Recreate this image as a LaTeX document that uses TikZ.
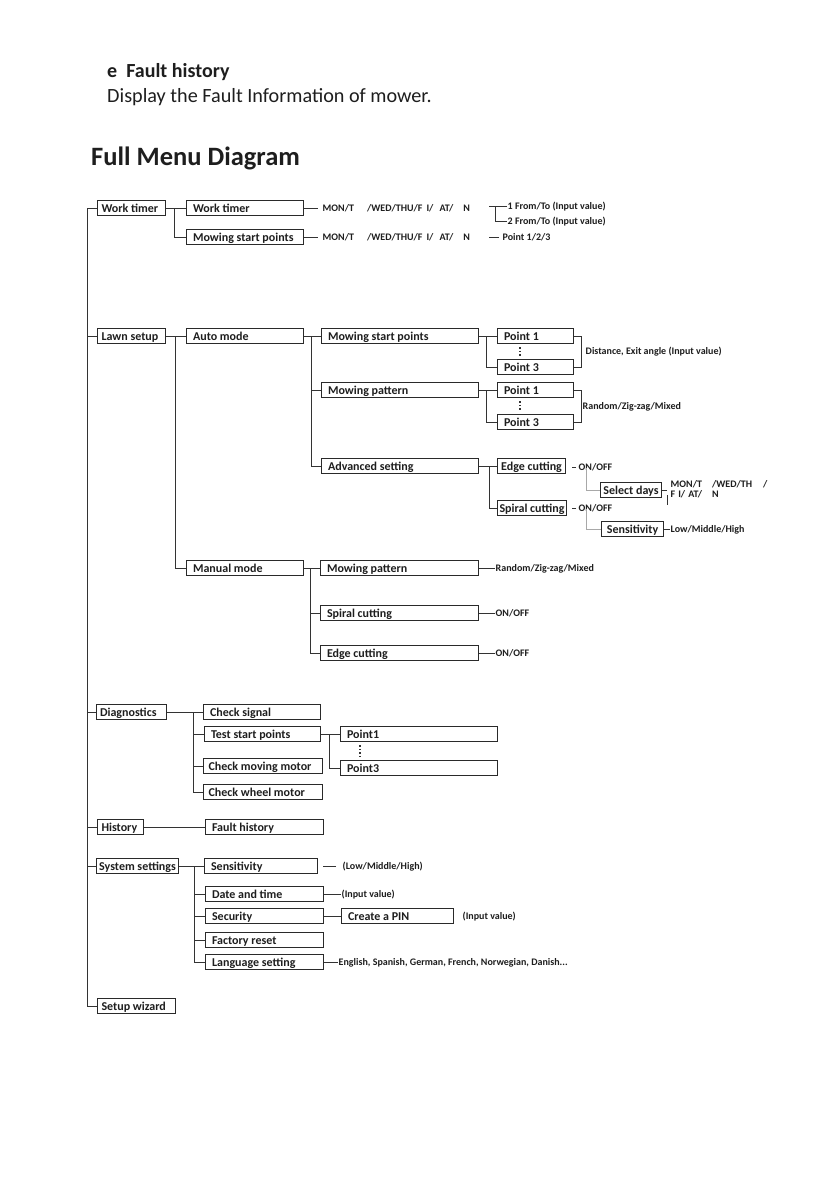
\documentclass[tikz,border=0pt]{standalone}
\usepackage{fontspec}
\setmainfont{Carlito}
\definecolor{boxc}{HTML}{2A2A2A}
\definecolor{linec}{HTML}{333333}
\definecolor{txt}{HTML}{1E1E1E}
\definecolor{lgray}{HTML}{A8A8A8}
% \mb[pad]{name}{x1}{x2}{y}{text}: left aligned;  \mbc: centred, tight
\newcommand\mb[6][6.5]{\node[mbox, inner xsep=#1pt] (#2) at (#3,#5) {\makebox[\dimexpr #4pt-#3pt-#1pt-#1pt\relax][l]{#6}};}
\newcommand\mbc[5]{\node[mbox, inner xsep=2pt] (#1) at (#2,#4) {\makebox[\dimexpr #3pt-#2pt-4pt\relax][c]{#5}};}
\begin{document}
\begin{tikzpicture}[x=1pt,y=-1pt,
  mbox/.style={draw=boxc, line width=1.1pt, inner ysep=0pt, minimum height=15.5pt, anchor=west, font=\bfseries\fontsize{12}{13}\selectfont, text height=9.4pt, text depth=1.4pt, text=txt},
  lbl/.style={anchor=west, inner sep=0.5pt, font=\bfseries\fontsize{10}{11}\selectfont, text=txt, text height=7pt, text depth=1pt},
  con/.style={draw=linec, line width=0.9pt},
  gcon/.style={draw=lgray, line width=0.9pt},
  dots/.style={draw=linec, line width=1.1pt, dash pattern=on 1.2pt off 2.3pt}]
\useasboundingbox (0,0) rectangle (839,1191);
\fill[white] (0,0) rectangle (839,1191);

% header
\node[anchor=base west, inner sep=0, font=\bfseries\fontsize{20}{22}\selectfont, text=txt] (hd1) at (107,77) {e\hspace{9pt}Fault history};
\node[anchor=base west, inner sep=0, font=\fontsize{20.2}{22}\selectfont, text=txt] (hd2) at (107,102) {Display the Fault Information of mower.};
\node[anchor=base west, inner sep=0, font=\bfseries\fontsize{26.5}{28}\selectfont, text=txt] (hd3) at (91,165) {Full Menu Diagram};

% level 1
\mb[4]{wt}{97}{165}{208}{Work timer}
\mb[4]{lawn}{97}{165}{336}{Lawn setup}
\mb[3.5]{diag}{96}{166}{712}{Diagnostics}
\mb[4]{hist}{97}{143}{827}{History}
\mbc{sys}{96}{178}{866}{System settings}
\mb[4]{setup}{97}{175}{1006}{Setup wizard}
\coordinate (trunk) at (87,208);
\draw[con] (wt.west) -- (trunk) |- (setup.west);
\foreach \n in {lawn,diag,hist,sys} \draw[con] (\n.west) -- (\n.west -| trunk);

% work timer
\mb{wt1}{186}{303}{208}{Work timer}
\mb{wt2}{186}{303}{237}{Mowing start points}
\draw[con] (wt.east) -- (wt1.west);
\draw[con] ([xshift=8pt]wt.east) |- (wt2.west);
\node[lbl] (d1) at (322,208) {MON/T\hspace{13pt}/WED/THU/F\hspace{4pt}I/\hspace{6pt}AT/\hspace{10pt}N};
\node[lbl] (d2) at (322,237) {MON/T\hspace{13pt}/WED/THU/F\hspace{4pt}I/\hspace{6pt}AT/\hspace{10pt}N};
\draw[con] (wt1.east) -- ([xshift=-4pt]d1.west);
\draw[con] (wt2.east) -- ([xshift=-4pt]d2.west);
\node[lbl] (f1) at (507,206) {1 From/To (Input value)};
\node[lbl] (f2) at (507,221) {2 From/To (Input value)};
\draw[con] (f1.west) -- ++(-18,0);
\draw[con] ([xshift=-12pt]f1.west) |- (f2.west);
\node[lbl] (p123) at (502,237) {Point 1/2/3};
\draw[con] ([xshift=-3pt]p123.west) -- ++(-10,0);

% lawn setup
\mb{auto}{186}{303}{336}{Auto mode}
\mb{manual}{186}{303}{568}{Manual mode}
\draw[con] (lawn.east) -- (auto.west);
\draw[con] ([xshift=9pt]lawn.east) |- (manual.west);

\mb{msp}{321}{478}{336}{Mowing start points}
\mb{mpat}{321}{478}{390}{Mowing pattern}
\mb{adv}{321}{478}{466}{Advanced setting}
\draw[con] (auto.east) -- (msp.west);
\draw[con] ([xshift=7pt]auto.east) |- (mpat.west);
\draw[con] ([xshift=7pt]auto.east) |- (adv.west);

\mb{p1a}{497}{573}{336}{Point 1}
\mb{p3a}{497}{573}{367}{Point 3}
\draw[con] (msp.east) -- (p1a.west);
\draw[con] ([xshift=7pt]msp.east) |- (p3a.west);
\draw[dots] ([xshift=23pt,yshift=-3pt]p1a.south west) -- ([xshift=23pt,yshift=3pt]p3a.north west);
\draw[con] (p1a.east) -- ++(7,0) |- (p3a.east);
\node[lbl] (dist) at (585,351) {Distance, Exit angle (Input value)};

\mb{p1b}{497}{573}{390}{Point 1}
\mb{p3b}{497}{573}{422}{Point 3}
\draw[con] (mpat.east) -- (p1b.west);
\draw[con] ([xshift=7pt]mpat.east) |- (p3b.west);
\draw[dots] ([xshift=23pt,yshift=-3pt]p1b.south west) -- ([xshift=23pt,yshift=3pt]p3b.north west);
\draw[con] (p1b.east) -- ++(7,0) |- (p3b.east);
\node[lbl] (rzm) at (582,406) {Random/Zig-zag/Mixed};

\mbc{edge}{497}{565}{466}{Edge cutting}
\mbc{spiral}{497}{566}{508}{Spiral cutting}
\draw[con] (adv.east) -- (edge.west);
\draw[con] ([xshift=10pt]adv.east) |- (spiral.west);
\node[lbl] (on1) at (578,467) {ON/OFF};
\node[lbl] (on2) at (578,508) {ON/OFF};
\draw[con] ([xshift=-2pt]on1.west) -- ++(-4,0);
\draw[con] ([xshift=-2pt]on2.west) -- ++(-4,0);

\mbc{seld}{600}{661}{490}{Select days}
\mbc{sens}{601}{663}{529}{Sensitivity}
\draw[gcon] ([xshift=8pt,yshift=4pt]on1.south west) |- (seld.west);
\draw[gcon] ([xshift=8pt,yshift=4pt]on2.south west) |- (sens.west);
\node[lbl] (dl1) at (670,484) {MON/T\hspace{10pt}/WED/TH\hspace{11pt}/};
\node[lbl] (dl2) at (670,494) {F\hspace{3pt}I/\hspace{3pt}AT/\hspace{10pt}N};
\draw[con] (seld.east) -- ++(5,0);
\draw[con] ([xshift=5pt,yshift=-5pt]seld.east) -- ++(0,10);
\node[lbl] (lmh) at (670,529) {Low/Middle/High};
\draw[con] (sens.east) -- (lmh.west);

\mb{mpat2}{320}{478}{568}{Mowing pattern}
\mb{spiral2}{320}{478}{613}{Spiral cutting}
\mb{edge2}{320}{478}{653}{Edge cutting}
\draw[con] (manual.east) -- (mpat2.west);
\draw[con] ([xshift=6pt]manual.east) |- (spiral2.west);
\draw[con] ([xshift=6pt]manual.east) |- (edge2.west);
\node[lbl] (rzm2) at (495,568) {Random/Zig-zag/Mixed};
\node[lbl] (on3) at (495,613) {ON/OFF};
\node[lbl] (on4) at (495,653) {ON/OFF};
\draw[con] (mpat2.east) -- (rzm2.west);
\draw[con] (spiral2.east) -- (on3.west);
\draw[con] (edge2.east) -- (on4.west);

% diagnostics
\mb{chk}{203}{320}{712}{Check signal}
\mb{tsp}{204}{320}{734}{Test start points}
\mb[5]{cmm}{203}{322}{766}{Check moving motor}
\mb[5]{cwm}{203}{322}{792}{Check wheel motor}
\draw[con] (diag.east) -- (chk.west);
\foreach \n in {tsp,cmm,cwm} \draw[con] ([xshift=26pt]diag.east) |- (\n.west);
\mb{pt1}{340}{497}{734}{Point1}
\mb{pt3}{340}{497}{768}{Point3}
\draw[con] (tsp.east) -- (pt1.west);
\draw[con] ([xshift=8pt]tsp.east) |- (pt3.west);
\draw[dots] ([xshift=20pt,yshift=-3pt]pt1.south west) -- ([xshift=20pt,yshift=3pt]pt3.north west);

% history
\mb{fh}{205}{323}{827}{Fault history}
\draw[con] (hist.east) -- (fh.west);

% system settings
\mb{ssens}{204}{317}{866}{Sensitivity}
\mb{date}{205}{323}{894}{Date and time}
\mb{sec}{205}{323}{916}{Security}
\mb{fac}{205}{323}{940}{Factory reset}
\mb{lang}{205}{323}{962}{Language setting}
\draw[con] (sys.east) -- (ssens.west);
\foreach \n in {date,sec,fac,lang} \draw[con] ([xshift=15pt]sys.east) |- (\n.west);
\node[lbl] (lmh2) at (342,866) {(Low/Middle/High)};
\draw[con] ([xshift=-6pt]lmh2.west) -- ++(-13,0);
\node[lbl] (iv1) at (341,894) {(Input value)};
\draw[con] (date.east) -- (iv1.west);
\mb{pin}{341}{453}{916}{Create a PIN}
\draw[con] (sec.east) -- (pin.west);
\node[lbl] (iv2) at (462,916) {(Input value)};
\node[lbl] (langs) at (338,962) {English, Spanish, German, French, Norwegian, Danish...};
\draw[con] (lang.east) -- (langs.west);
\end{tikzpicture}
\end{document}
